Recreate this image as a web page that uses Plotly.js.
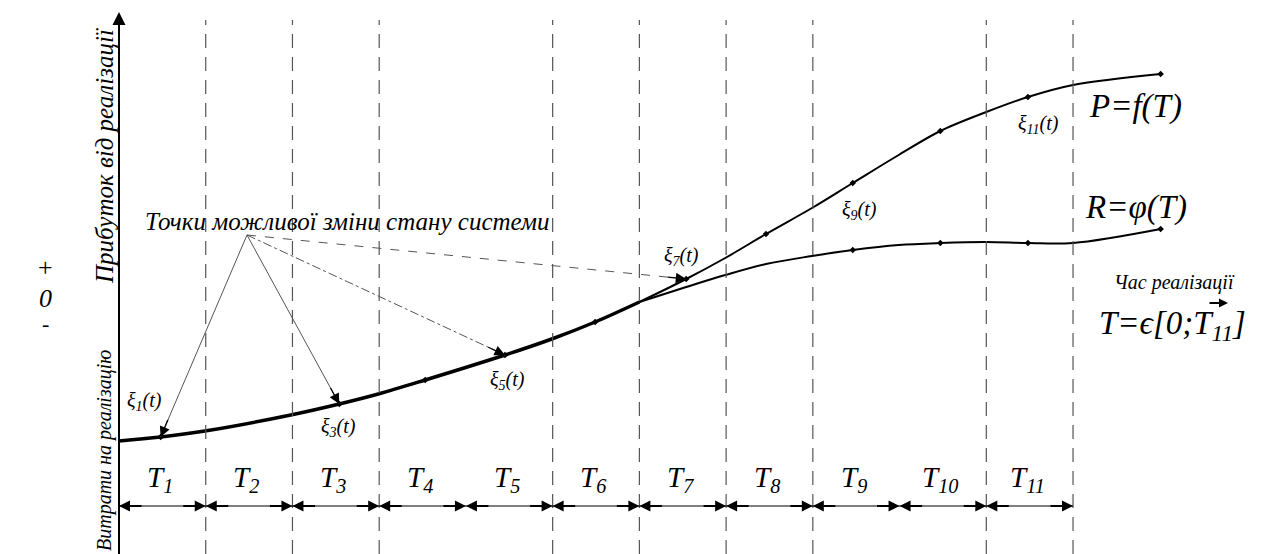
<!DOCTYPE html>
<html>
<head>
<meta charset="utf-8">
<script src="https://cdn.plot.ly/plotly-3.0.1.min.js"></script>
<style>html,body{margin:0;padding:0;background:#fff;}#chart{width:1263px;height:554px;}</style>
</head>
<body>
<div id="chart"></div>
<script>
// ---- data ----
const intervalLabels = ['T<sub>1</sub>','T<sub>2</sub>','T<sub>3</sub>','T<sub>4</sub>','T<sub>5</sub>','T<sub>6</sub>','T<sub>7</sub>','T<sub>8</sub>','T<sub>9</sub>','T<sub>10</sub>','T<sub>11</sub>'];
const dashedBounds = [1, 2, 3, 5, 6, 7, 8, 10, 11];
// common (cost) part of the curve, before the split
const commonX = [0, 0.48, 0.99, 1.98, 2.54, 2.99, 3.53, 4.45, 4.99, 5.49, 6.0];
const commonY = [-14.3, -13.9, -13.3, -11.7, -10.6, -9.6, -8.2, -5.7, -4.1, -2.4, -0.4];
// P = f(T)
const profitX = [6.0, 6.54, 6.99, 7.46, 7.99, 8.46, 8.99, 9.47, 10.0, 10.48, 11.0, 12.01];
const profitY = [-0.4, 1.9, 4.0, 6.4, 9.0, 11.5, 14.3, 16.7, 18.6, 20.1, 21.3, 22.4];
// R = phi(T)
const riskX = [6.0, 6.54, 6.99, 7.46, 7.99, 8.46, 8.99, 9.47, 10.0, 10.48, 11.0, 12.01];
const riskY = [-0.4, 1.1, 2.3, 3.4, 4.2, 4.8, 5.3, 5.5, 5.6, 5.5, 5.5, 6.9];
// points of possible change of system state
const stateLabels = ['ξ<sub>1</sub>(t)','ξ<sub>3</sub>(t)','ξ<sub>5</sub>(t)','ξ<sub>7</sub>(t)','ξ<sub>9</sub>(t)','ξ<sub>11</sub>(t)'];
const stateX = [0.48, 2.54, 4.45, 6.54, 8.46, 10.48];
const stateY = [-13.9, -10.6, -5.7, 1.9, 11.5, 20.1];

// ---- layout helpers ----
const W = 1263, H = 554;
const X0 = 119, KX = 86.73;        // px of x=0, px per interval
const Y0 = 298, KY = 10;           // px of y=0, px per unit
const xr = [-X0 / KX, (W - X0) / KX];
const yr = [(Y0 - H) / KY, Y0 / KY];
const px2x = p => (p - X0) / KX;
const py2y = p => (Y0 - p) / KY;

const FONT = 'Liberation Serif';
const fnt = (size) => ({family: FONT, size: size, color: '#000', style: 'italic'});
const pick = (arr, idx) => idx.map(i => arr[i]);

// which points carry a small node mark
const commonDots = [1, 4, 6, 7, 9];
const profitDots = [1, 3, 5, 7, 9, 11];
const riskDots = [5, 7, 9, 11];

const traces = [
  {x: commonX, y: commonY, mode: 'lines', line: {color: '#000', width: 3.5, shape: 'spline'}, hoverinfo: 'skip'},
  {x: profitX, y: profitY, mode: 'lines', line: {color: '#000', width: 2, shape: 'spline'}, hoverinfo: 'skip'},
  {x: riskX, y: riskY, mode: 'lines', line: {color: '#000', width: 2, shape: 'spline'}, hoverinfo: 'skip'},
  {x: pick(commonX, commonDots).concat(pick(profitX, profitDots), pick(riskX, riskDots)),
   y: pick(commonY, commonDots).concat(pick(profitY, profitDots), pick(riskY, riskDots)),
   mode: 'markers', marker: {size: 5, color: '#000', symbol: 'diamond'}, hoverinfo: 'skip'}
];

const shapes = [];
const annotations = [];

// y axis
shapes.push({type: 'line', x0: 0, x1: 0, y0: yr[0], y1: py2y(22), line: {color: '#000', width: 2}});
annotations.push({x: 0, y: py2y(12), ax: 0, ay: 22, showarrow: true, arrowhead: 2, arrowsize: 1.3, arrowwidth: 2, arrowcolor: '#000', text: ''});

// dashed interval boundaries
dashedBounds.forEach(b => {
  shapes.push({type: 'line', x0: b, x1: b, y0: yr[0], y1: py2y(20), line: {color: '#555', width: 1.2, dash: '14px,9px'}});
});

// dimension line with double-headed arrows
const dimY = py2y(506);
shapes.push({type: 'line', x0: 0, x1: intervalLabels.length, y0: dimY, y1: dimY, line: {color: '#000', width: 1.2}});
intervalLabels.forEach((lab, i) => {
  annotations.push({x: i, y: dimY, ax: 24, ay: 0, showarrow: true, arrowhead: 2, arrowsize: 1.1, arrowwidth: 2, arrowcolor: '#000', text: ''});
  annotations.push({x: i + 1, y: dimY, ax: -24, ay: 0, showarrow: true, arrowhead: 2, arrowsize: 1.1, arrowwidth: 2, arrowcolor: '#000', text: ''});
  annotations.push({x: i + 0.47, y: py2y(479), showarrow: false, text: lab, font: fnt(29)});
});

// state labels
const labelOffsets = [[-16, -36], [-1, 23], [3, 25], [-5, -23], [7, 27], [11, 27]];
stateLabels.forEach((lab, i) => {
  annotations.push({x: stateX[i], y: stateY[i], xshift: labelOffsets[i][0], yshift: -labelOffsets[i][1], showarrow: false,
    text: lab, font: fnt(20)});
});

// pointer text and arrows to the first four state points
annotations.push({x: px2x(347), y: py2y(221), showarrow: false, text: 'Точки можливої зміни стану системи', font: fnt(25)});
const ox = px2x(247), oy = py2y(235);
const dashes = ['solid', 'solid', 'dashdot', 'dash'];
for (let i = 0; i < 4; i++) {
  shapes.push({type: 'line', x0: ox, y0: oy, x1: stateX[i], y1: stateY[i], line: {color: '#555', width: 1, dash: dashes[i]}});
  const dx = (stateX[i] - ox) * KX, dy = -(stateY[i] - oy) * KY;
  const L = Math.hypot(dx, dy);
  annotations.push({x: stateX[i], y: stateY[i], ax: -dx / L * 20, ay: -dy / L * 20, showarrow: true,
    arrowhead: 2, arrowsize: 1.6, arrowwidth: 1.3, arrowcolor: '#000', text: ''});
}

// curve names
annotations.push({x: px2x(1135), y: py2y(106), showarrow: false, text: 'P=f(T)', font: fnt(33)});
annotations.push({x: px2x(1136), y: py2y(207), showarrow: false, text: 'R=φ(T)', font: fnt(33)});
annotations.push({x: px2x(1174), y: py2y(282), showarrow: false, text: 'Час реалізації', font: fnt(20)});
annotations.push({x: px2x(1228), y: py2y(303), ax: -20, ay: 0, showarrow: true, arrowhead: 2, arrowsize: 0.9, arrowwidth: 2, arrowcolor: '#000', text: ''});
annotations.push({x: px2x(1172), y: py2y(325), showarrow: false, text: 'T=ϵ[0;T<sub>11</sub>]', font: fnt(33)});

// left side labels
annotations.push({xref: 'paper', yref: 'paper', x: 104 / W, y: 1 - 156 / H, xanchor: 'center', yanchor: 'middle', textangle: -90, showarrow: false,
  text: 'Прибуток від реалізації', font: fnt(25)});
annotations.push({xref: 'paper', yref: 'paper', x: 104 / W, y: 1 - 451 / H, xanchor: 'center', yanchor: 'middle', textangle: -90, showarrow: false,
  text: 'Витрати на реалізацію', font: fnt(20)});
annotations.push({xref: 'paper', yref: 'paper', x: 45 / W, y: 1 - 267 / H, xanchor: 'center', yanchor: 'middle', showarrow: false, text: '+', font: {family: FONT, size: 26, color: '#000'}});
annotations.push({xref: 'paper', yref: 'paper', x: 45 / W, y: 1 - 298 / H, xanchor: 'center', yanchor: 'middle', showarrow: false, text: '0', font: fnt(26)});
annotations.push({xref: 'paper', yref: 'paper', x: 45 / W, y: 1 - 323 / H, xanchor: 'center', yanchor: 'middle', showarrow: false, text: '-', font: {family: FONT, size: 22, color: '#000'}});

const layout = {
  width: W, height: H,
  margin: {l: 0, r: 0, t: 0, b: 0},
  paper_bgcolor: '#fff', plot_bgcolor: '#fff',
  showlegend: false,
  font: {family: FONT},
  xaxis: {range: xr, visible: false, fixedrange: true},
  yaxis: {range: yr, visible: false, fixedrange: true},
  shapes: shapes,
  annotations: annotations
};

Plotly.newPlot('chart', traces, layout, {displayModeBar: false, staticPlot: true});
</script>
</body>
</html>
